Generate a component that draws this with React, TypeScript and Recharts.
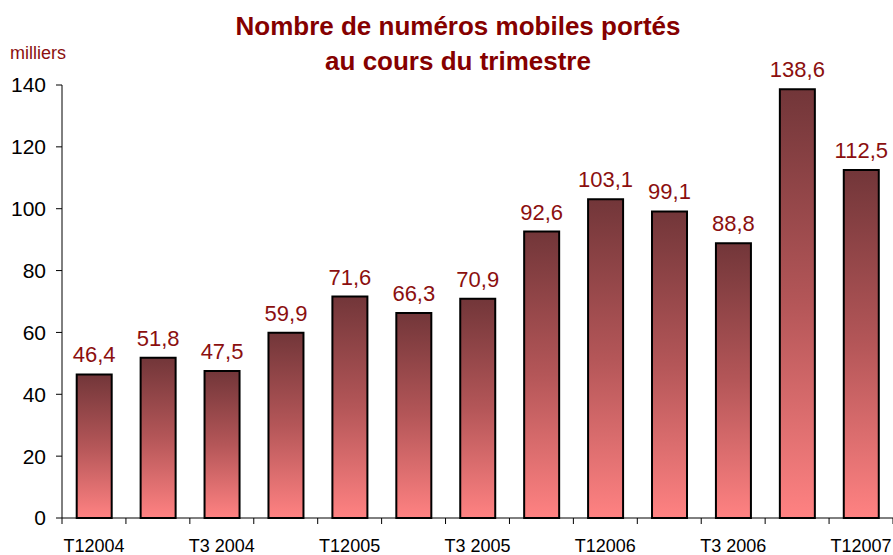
import React from 'react';
import { BarChart, Bar, XAxis, YAxis, LabelList } from 'recharts';

const trimestres = [
  'T12004', 'T2 2004', 'T3 2004', 'T4 2004',
  'T12005', 'T2 2005', 'T3 2005', 'T4 2005',
  'T12006', 'T2 2006', 'T3 2006', 'T4 2006',
  'T12007',
];
const portes = [46.4, 51.8, 47.5, 59.9, 71.6, 66.3, 70.9, 92.6, 103.1, 99.1, 88.8, 138.6, 112.5];
const yTicks = [0, 20, 40, 60, 80, 100, 120, 140];

const data = trimestres.map((t, i) => ({ name: t, value: portes[i] }));

const W = 893;
const H = 555;
const Y_AXIS_W = 62;
const BAND = (W - Y_AXIS_W) / trimestres.length;
const FONT = '"Liberation Sans", Arial, sans-serif';
const DARK_RED = '#8b0f0f';

// Excel style: ticks between categories, label every other quarter
const QuarterTick = (props: any) => {
  const { x, y, payload, index } = props;
  const left = x - BAND / 2;
  return (
    <g>
      <line x1={left} y1={y - 8} x2={left} y2={y - 2} stroke="#000" strokeWidth={1} />
      {index === trimestres.length - 1 && (
        <line x1={x + BAND / 2} y1={y - 8} x2={x + BAND / 2} y2={y - 2} stroke="#000" strokeWidth={1} />
      )}
      {index % 2 === 0 && (
        <text x={x} y={y + 26} textAnchor="middle" fontSize={18} fill="#000" fontFamily={FONT}>
          {payload.value}
        </text>
      )}
    </g>
  );
};

export default function App() {
  return (
    <div style={{ position: 'absolute', left: 0, top: 0, width: W, height: H, background: '#fff', fontFamily: FONT }}>
      <div style={{ position: 'absolute', left: 0, top: 9, width: 916, textAlign: 'center', color: '#850000', fontWeight: 'bold', fontSize: 26, lineHeight: '35px' }}>
        Nombre de numéros mobiles portés
        <br />
        au cours du trimestre
      </div>
      <div style={{ position: 'absolute', left: 10, top: 43, color: DARK_RED, fontSize: 18, lineHeight: '20px' }}>milliers</div>
      <BarChart
        width={W}
        height={H}
        data={data}
        margin={{ top: 85, right: 0, left: 0, bottom: 0 }}
        barCategoryGap="23%"
      >
        <defs>
          <linearGradient id="barFill" x1="0" y1="0" x2="0" y2="1">
            <stop offset="0%" stopColor="#723639" />
            <stop offset="50%" stopColor="#b45658" />
            <stop offset="100%" stopColor="#ff8282" />
          </linearGradient>
        </defs>
        <XAxis
          dataKey="name"
          interval={0}
          height={37}
          tickLine={false}
          axisLine={{ stroke: '#000' }}
          tick={<QuarterTick />}
        />
        <YAxis
          width={Y_AXIS_W}
          domain={[0, 140]}
          ticks={yTicks}
          tickSize={6}
          tickMargin={10}
          axisLine={{ stroke: '#000' }}
          tickLine={{ stroke: '#000' }}
          tick={{ fill: '#000', fontSize: 21, fontFamily: FONT }}
        />
        <Bar dataKey="value" fill="url(#barFill)" stroke="#000" strokeWidth={2} isAnimationActive={false}>
          <LabelList
            dataKey="value"
            position="top"
            offset={12}
            fill={DARK_RED}
            fontSize={22}
            fontFamily={FONT}
            formatter={(v: any) => String(v).replace('.', ',')}
          />
        </Bar>
      </BarChart>
    </div>
  );
}
